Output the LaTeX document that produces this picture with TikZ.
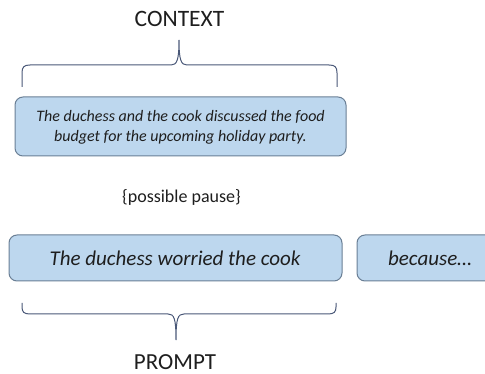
\documentclass[tikz,border=0pt]{standalone}
\usepackage{fontspec}
\setmainfont{Carlito}
\definecolor{boxfill}{HTML}{BDD7EE}
\definecolor{boxline}{HTML}{6A7F95}
\definecolor{bracecol}{HTML}{4A5878}
\definecolor{txt}{HTML}{1E1E1E}
\begin{document}
\begin{tikzpicture}[x=1pt,y=-1pt,
  bx/.style={draw=boxline,fill=boxfill,line width=1pt,rounded corners=8pt},
  br/.style={draw=bracecol,line width=1pt},
  lbl/.style={text=txt,inner sep=0pt,anchor=center}]
\useasboundingbox (0,0) rectangle (485,374);
\clip (0,0) rectangle (485,374);
% labels
\node[lbl,font=\fontsize{23.5}{26}\selectfont] (ctx) at (179.5,19) {CONTEXT};
\node[lbl,font=\fontsize{23}{26}\selectfont] (prm) at (175,362) {PROMPT};
\node[lbl,font=\fontsize{18}{21}\selectfont] (pause) at (181.5,197) {\{possible pause\}};
% boxes
\draw[bx] (15,97) rectangle (346,156);
\node[lbl,font=\fontsize{16}{20}\selectfont\itshape,align=center] (ctxbox) at (180.5,127) {The duchess and the cook discussed the food\\budget for the upcoming holiday party.};
\draw[bx] (9,235) rectangle (342,281);
\node[lbl,font=\fontsize{21}{24}\selectfont\itshape] (pbox) at (175,258) {The duchess worried the cook};
\draw[bx] (357,235) rectangle (500,281);
\node[lbl,font=\fontsize{21}{24}\selectfont\itshape] (bbox) at (430,258) {because\dots};
% top brace
\draw[br] (22,87) -- (22,73) .. controls (22,67) and (24,65) .. (30,65) -- (171,65)
  .. controls (177,65) and (179,60) .. (179,40)
  .. controls (179,60) and (181,65) .. (187,65) -- (329,65)
  .. controls (335,65) and (337,67) .. (337,73) -- (337,87);
% bottom brace
\draw[br] (22,303) -- (22,307) .. controls (22,312) and (24,314) .. (30,314) -- (168,314)
  .. controls (174,314) and (176,318) .. (176,340)
  .. controls (176,318) and (178,314) .. (184,314) -- (328,314)
  .. controls (334,314) and (336,312) .. (336,307) -- (336,303);
\end{tikzpicture}
\end{document}
